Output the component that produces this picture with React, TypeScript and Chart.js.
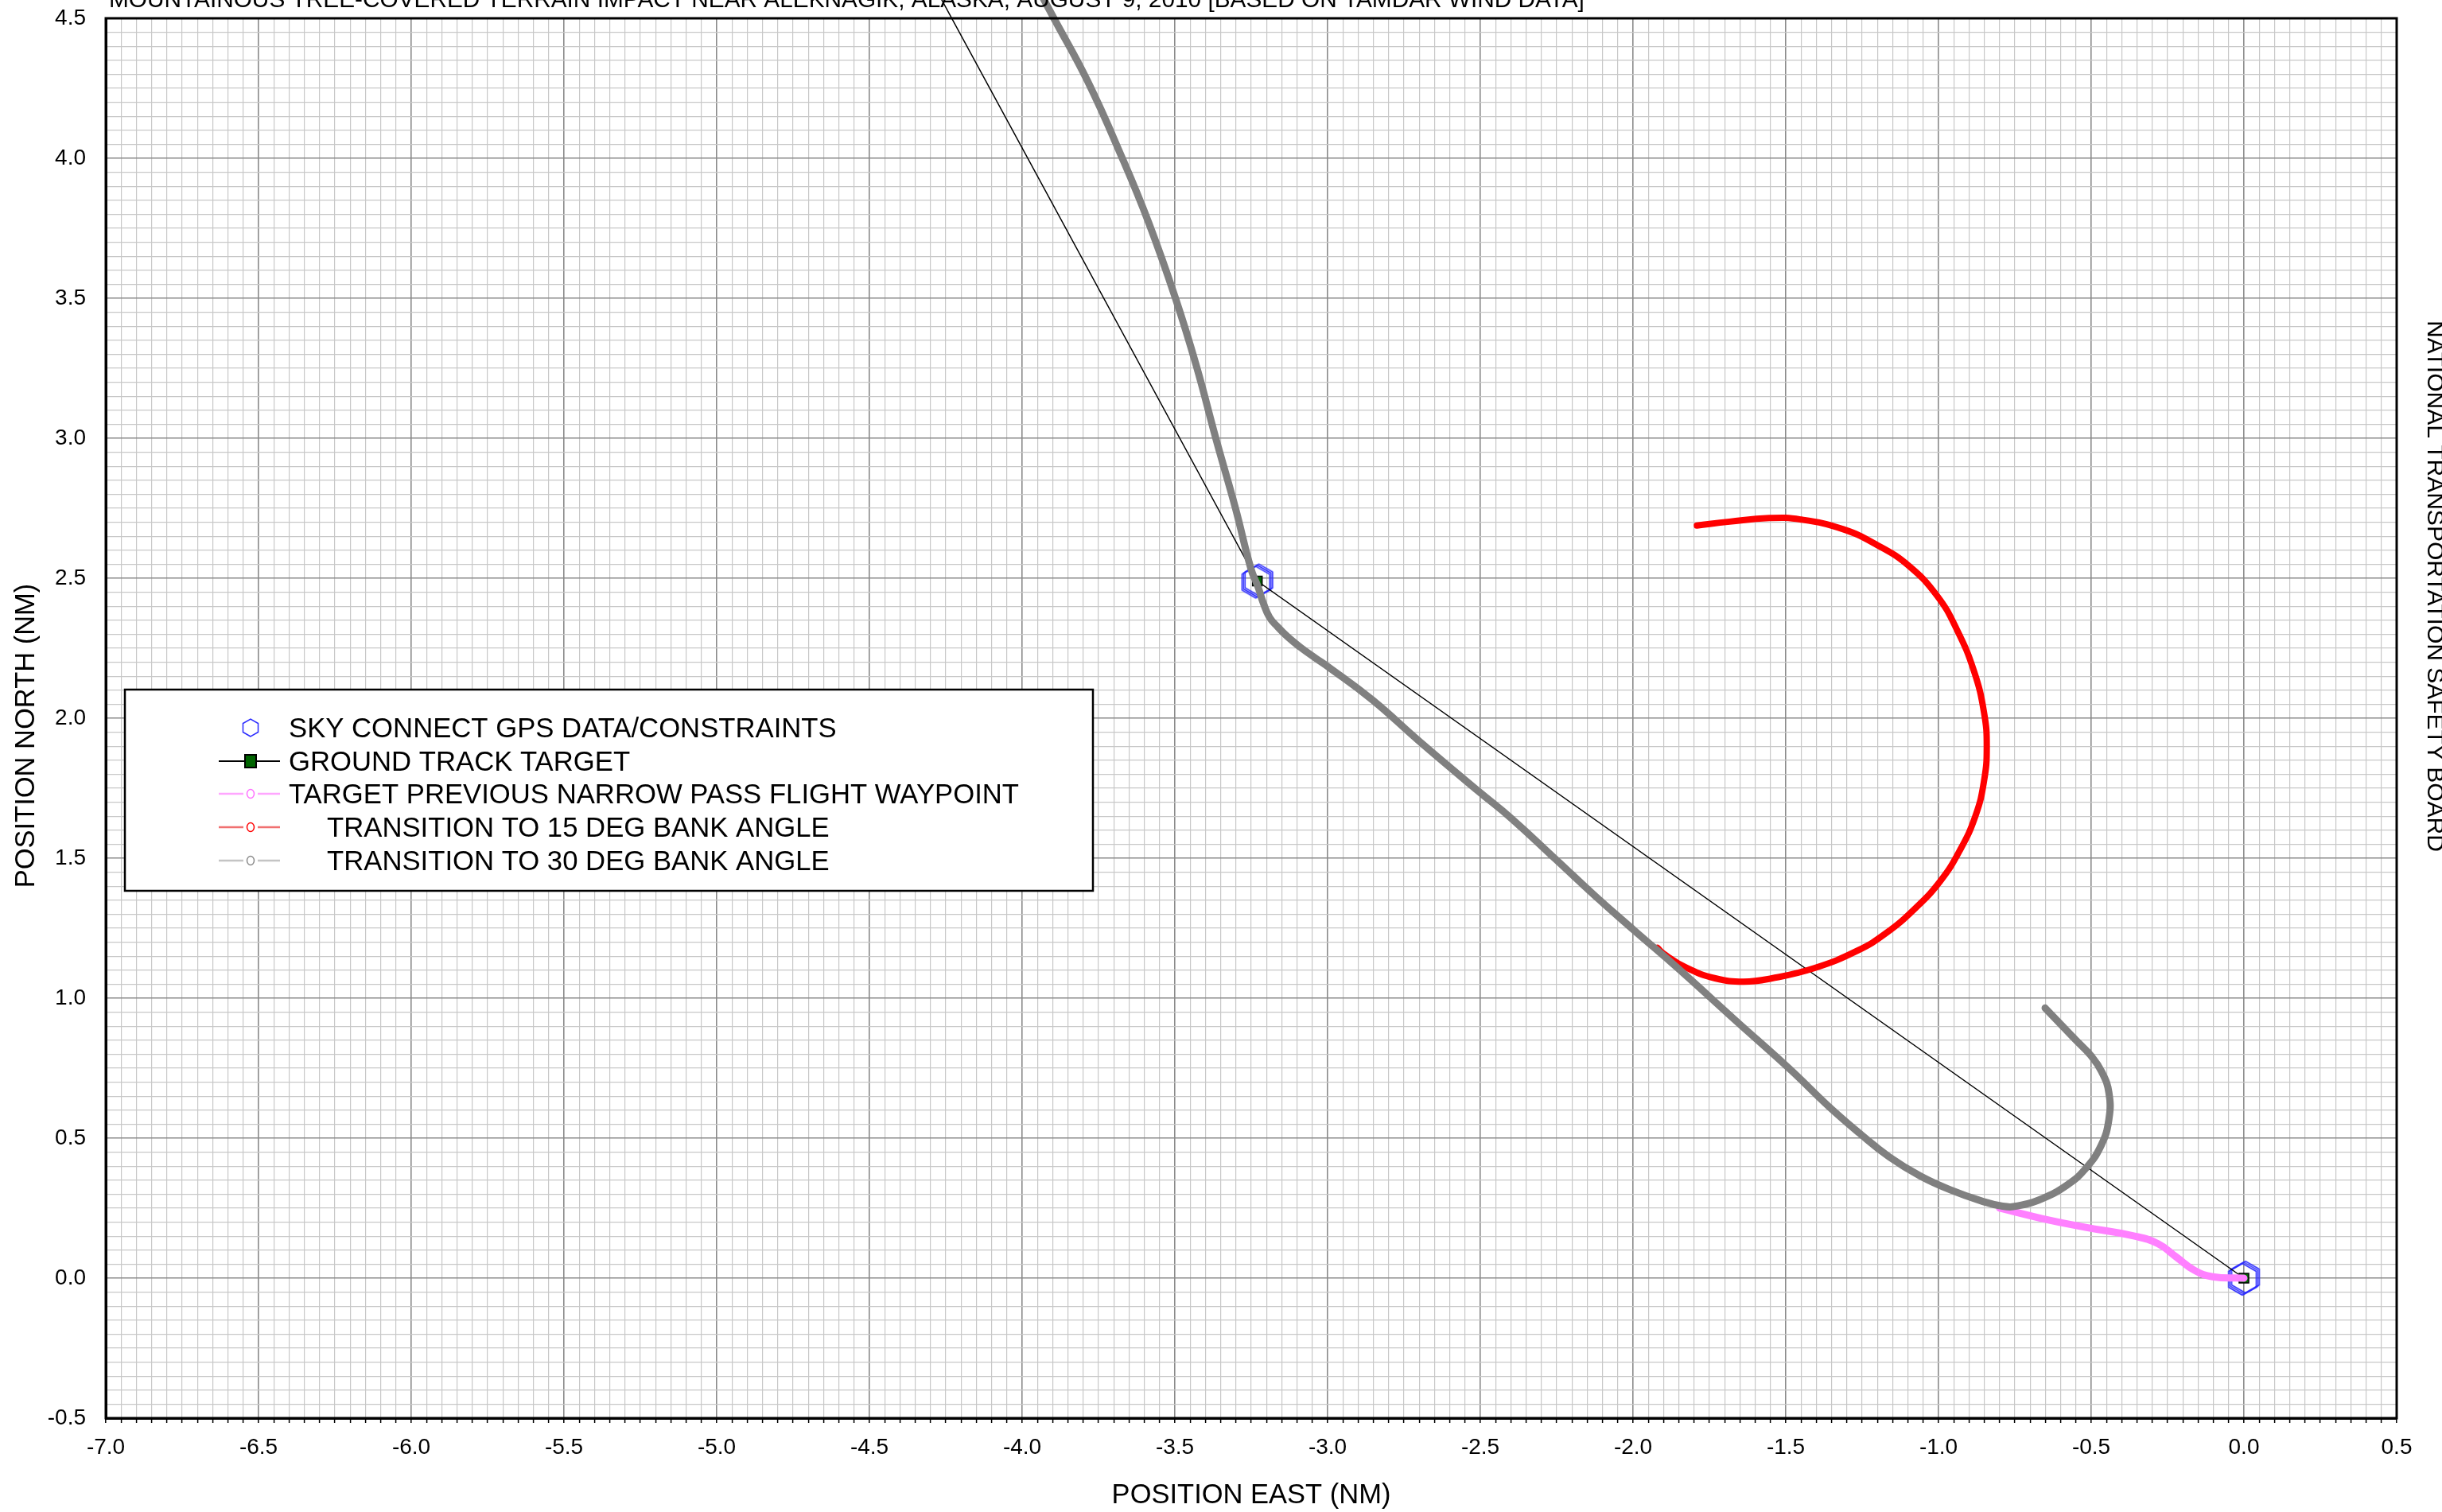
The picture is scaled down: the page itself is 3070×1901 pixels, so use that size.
import React, { useEffect, useRef } from 'react';
import { Chart, registerables } from 'chart.js';

Chart.register(...registerables);

// Axis ranges and grid spacing (nautical miles)
const X_MIN = -7.0;
const X_MAX = 0.5;
const Y_MIN = -0.5;
const Y_MAX = 4.5;
const GRID_STEP = 0.05;
const MAJOR_STEP = 0.5;

// Sky Connect GPS fixes / constraints
const gpsEast = [-3.235, -3.23, -3.225, -0.005, 0.0, 0.005];
const gpsNorth = [2.486, 2.49, 2.494, -0.004, 0.0, 0.004];

// Ground track target (straight legs between waypoints)
const targetEast = [-4.33, -3.23, 0.0];
const targetNorth = [4.7, 2.49, 0.0];

// Target previous narrow pass flight waypoint
const passEast = [-0.8, -0.661, -0.511, -0.361, -0.281, -0.222, -0.162, -0.102, 0.0];
const passNorth = [0.25, 0.213, 0.18, 0.151, 0.123, 0.076, 0.028, 0.005, 0.0];

// Transition to 15 deg bank angle
const bank15East = [
  -1.92, -1.899, -1.824, -1.731, -1.638, -1.545, -1.405, -1.265, -1.172, -1.079, -0.995, -0.93, -0.879,
  -0.851, -0.842, -0.851, -0.884, -0.94, -1.005, -1.098, -1.2, -1.312, -1.452, -1.554, -1.684, -1.791,
];
const bank15North = [
  1.18, 1.158, 1.108, 1.071, 1.059, 1.071, 1.108, 1.17, 1.232, 1.318, 1.417, 1.528, 1.651,
  1.775, 1.898, 2.021, 2.169, 2.317, 2.438, 2.545, 2.618, 2.675, 2.71, 2.715, 2.702, 2.688,
];

// Transition to 30 deg bank angle (full track)
const bank30East = [
  -3.955, -3.896, -3.786, -3.672, -3.585, -3.498, -3.43, -3.366, -3.302, -3.251, -3.228, -3.21, -3.19,
  -3.164, -3.13, -3.091, -3.04, -3.0, -2.854, -2.7, -2.507, -2.398, -2.252, -2.124, -1.996, -1.85,
  -1.668, -1.485, -1.359, -1.259, -1.16, -1.06, -0.96, -0.86, -0.79, -0.741, -0.661, -0.581, -0.521,
  -0.468, -0.442, -0.442, -0.466, -0.501, -0.551, -0.601, -0.651,
];
const bank30North = [
  4.62, 4.5, 4.276, 4.0, 3.768, 3.5, 3.26, 3.0, 2.752, 2.534, 2.47, 2.41, 2.36,
  2.327, 2.29, 2.255, 2.215, 2.185, 2.066, 1.918, 1.74, 1.642, 1.495, 1.365, 1.242, 1.104,
  0.924, 0.745, 0.613, 0.518, 0.432, 0.365, 0.315, 0.276, 0.257, 0.258, 0.284, 0.331, 0.388,
  0.473, 0.568, 0.662, 0.738, 0.795, 0.851, 0.908, 0.965,
];

const chartTitle =
  'MOUNTAINOUS TREE-COVERED TERRAIN IMPACT NEAR ALEKNAGIK, ALASKA, AUGUST 9, 2010 [BASED ON TAMDAR WIND DATA]';
const sideCaption = 'NATIONAL TRANSPORTATION SAFETY BOARD';
const xTitle = 'POSITION EAST (NM)';
const yTitle = 'POSITION NORTH (NM)';

const legendLabels = [
  'SKY CONNECT GPS DATA/CONSTRAINTS',
  'GROUND TRACK TARGET',
  'TARGET PREVIOUS NARROW PASS FLIGHT WAYPOINT',
  'TRANSITION TO 15 DEG BANK ANGLE',
  'TRANSITION TO 30 DEG BANK ANGLE',
];

const FONT = "'Liberation Sans', Arial, Helvetica, sans-serif";
const W = 3070;
const H = 1901;

const zip = (xs: number[], ys: number[]) => xs.map((x, i) => ({ x, y: ys[i] }));

const isMajor = (v: number) => Math.abs(v / MAJOR_STEP - Math.round(v / MAJOR_STEP)) < 1e-6;

function hexPath(g: CanvasRenderingContext2D, cx: number, cy: number, r: number) {
  g.beginPath();
  for (let i = 0; i < 6; i++) {
    const a = Math.PI / 2 + (i * Math.PI) / 3;
    const px = cx + r * Math.cos(a);
    const py = cy + r * Math.sin(a);
    if (i === 0) g.moveTo(px, py);
    else g.lineTo(px, py);
  }
  g.closePath();
}

function hexagonMarker(r: number, color: string, lw: number) {
  const size = Math.ceil(2 * r + 2 * lw + 4);
  const c = document.createElement('canvas');
  c.width = size;
  c.height = size;
  const g = c.getContext('2d')!;
  g.strokeStyle = color;
  g.lineWidth = lw;
  hexPath(g, size / 2, size / 2, r);
  g.stroke();
  return c;
}

const decorPlugin = {
  id: 'decor',
  afterDatasetsDraw(chart: any) {
    const { ctx, chartArea } = chart;
    ctx.save();
    ctx.strokeStyle = '#000';
    ctx.lineWidth = 3;
    ctx.strokeRect(chartArea.left, chartArea.top, chartArea.right - chartArea.left, chartArea.bottom - chartArea.top);
    ctx.restore();
  },
  afterDraw(chart: any) {
    const { ctx, chartArea } = chart;
    ctx.save();
    ctx.fillStyle = '#000';

    // title along the top edge
    ctx.font = `29.8px ${FONT}`;
    ctx.textAlign = 'left';
    ctx.textBaseline = 'alphabetic';
    ctx.fillText(chartTitle, 137, 9);

    // axis titles
    ctx.font = `34.5px ${FONT}`;
    ctx.textAlign = 'center';
    ctx.fillText(xTitle, (chartArea.left + chartArea.right) / 2, 1890);
    ctx.save();
    ctx.translate(43, 925);
    ctx.rotate(-Math.PI / 2);
    ctx.fillText(yTitle, 0, 0);
    ctx.restore();

    // caption on the right edge
    ctx.save();
    ctx.font = `30px ${FONT}`;
    ctx.translate(3052, 737);
    ctx.rotate(Math.PI / 2);
    ctx.fillText(sideCaption, 0, 0);
    ctx.restore();

    // legend
    const bx = 157, by = 867, bw = 1217, bh = 253;
    ctx.fillStyle = '#fff';
    ctx.fillRect(bx, by, bw, bh);
    ctx.strokeStyle = '#000';
    ctx.lineWidth = 2.5;
    ctx.strokeRect(bx, by, bw, bh);

    const rowY = [915, 957, 998, 1040, 1082];
    const textX = [363, 363, 363, 411, 411];
    const symX = 315;
    const segL = 275, segR = 352;

    // GPS hexagon
    ctx.strokeStyle = '#2a2aff';
    ctx.lineWidth = 1.5;
    hexPath(ctx, symX, rowY[0], 11);
    ctx.stroke();

    // ground track
    ctx.strokeStyle = '#000';
    ctx.lineWidth = 2;
    ctx.beginPath();
    ctx.moveTo(segL, rowY[1]);
    ctx.lineTo(segR, rowY[1]);
    ctx.stroke();
    ctx.fillStyle = '#006400';
    ctx.fillRect(symX - 7, rowY[1] - 8, 14, 16);
    ctx.strokeRect(symX - 7, rowY[1] - 8, 14, 16);

    const lineEntries = [
      { y: rowY[2], line: '#ffa6ff', dot: '#ff70ff' },
      { y: rowY[3], line: '#f07070', dot: '#ff0000' },
      { y: rowY[4], line: '#c4c4c4', dot: '#8a8a8a' },
    ];
    for (const e of lineEntries) {
      ctx.strokeStyle = e.line;
      ctx.lineWidth = 2.5;
      ctx.beginPath();
      ctx.moveTo(segL, e.y);
      ctx.lineTo(symX - 9, e.y);
      ctx.moveTo(symX + 9, e.y);
      ctx.lineTo(segR, e.y);
      ctx.stroke();
      ctx.strokeStyle = e.dot;
      ctx.lineWidth = 1.5;
      ctx.beginPath();
      ctx.ellipse(symX, e.y, 4.5, 5.5, 0, 0, Math.PI * 2);
      ctx.stroke();
    }

    ctx.fillStyle = '#000';
    ctx.font = `34.7px ${FONT}`;
    ctx.textAlign = 'left';
    ctx.textBaseline = 'alphabetic';
    legendLabels.forEach((t, i) => ctx.fillText(t, textX[i], rowY[i] + 12));

    ctx.restore();
  },
};

export default function App() {
  const canvasRef = useRef<HTMLCanvasElement | null>(null);

  useEffect(() => {
    const canvas = canvasRef.current;
    if (!canvas) return;
    const hex = hexagonMarker(20, '#2a2aff', 1.5);

    const gridColor = (c: any) => (isMajor(c.tick.value) ? '#8a8a8a' : '#c8c8c8');
    const gridWidth = (c: any) => (isMajor(c.tick.value) ? 1.6 : 1.2);
    const tickLabel = (v: any) => (isMajor(Number(v)) ? Number(v).toFixed(1) : '');

    const track = {
      showLine: true,
      pointRadius: 0,
      tension: 0.45,
      borderCapStyle: 'round',
      borderJoinStyle: 'round',
    };

    const chart = new Chart(canvas, {
      type: 'scatter',
      data: {
        datasets: [
          {
            ...track,
            label: legendLabels[4],
            data: zip(bank30East, bank30North),
            borderColor: '#808080',
            borderWidth: 9,
            clip: false,
            order: 1,
          },
          {
            ...track,
            label: legendLabels[3],
            data: zip(bank15East, bank15North),
            borderColor: '#ff0000',
            borderWidth: 8,
            order: 2,
          },
          {
            ...track,
            label: legendLabels[2],
            data: zip(passEast, passNorth),
            borderColor: '#ff80ff',
            borderWidth: 9,
            order: 3,
          },
          {
            label: legendLabels[1],
            data: zip(targetEast, targetNorth),
            showLine: true,
            borderColor: '#000000',
            borderWidth: 1.5,
            pointStyle: 'rect',
            pointRadius: 8.5,
            pointBackgroundColor: '#006400',
            pointBorderColor: '#000000',
            pointBorderWidth: 1.5,
            tension: 0,
            clip: false,
            order: 4,
          },
          {
            label: legendLabels[0],
            data: zip(gpsEast, gpsNorth),
            showLine: false,
            pointStyle: hex,
            pointRadius: 20,
            order: 5,
          },
        ],
      },
      options: {
        responsive: false,
        animation: false,
        devicePixelRatio: 1,
        layout: { padding: { top: 23, right: 57, left: 0, bottom: 0 } },
        plugins: { legend: { display: false }, tooltip: { enabled: false }, title: { display: false } },
        scales: {
          x: {
            type: 'linear',
            position: 'bottom',
            min: X_MIN,
            max: X_MAX,
            afterFit: (s: any) => {
              s.height = 118;
              s.paddingLeft = 0;
              s.paddingRight = 0;
            },
            ticks: {
              stepSize: GRID_STEP,
              autoSkip: false,
              maxRotation: 0,
              minRotation: 0,
              padding: 14,
              color: '#000',
              font: { family: FONT, size: 28 },
              callback: tickLabel,
            },
            grid: {
              color: gridColor,
              lineWidth: gridWidth,
              drawTicks: true,
              tickLength: 6,
              tickColor: '#000',
              tickWidth: 1.5,
            },
            border: { display: true, color: '#000', width: 3 },
          },
          y: {
            type: 'linear',
            position: 'left',
            min: Y_MIN,
            max: Y_MAX,
            afterFit: (s: any) => {
              s.width = 133;
              s.paddingTop = 0;
              s.paddingBottom = 0;
            },
            ticks: {
              stepSize: GRID_STEP,
              autoSkip: false,
              padding: 25,
              color: '#000',
              font: { family: FONT, size: 28 },
              callback: tickLabel,
            },
            grid: {
              color: gridColor,
              lineWidth: gridWidth,
              drawTicks: false,
            },
            border: { display: true, color: '#000', width: 3 },
          },
        },
      },
      plugins: [decorPlugin],
    } as any);

    return () => chart.destroy();
  }, []);

  return (
    <div style={{ position: 'fixed', left: 0, top: 0, width: W, height: H, background: '#fff' }}>
      <canvas ref={canvasRef} width={W} height={H} style={{ width: W, height: H, display: 'block' }} />
    </div>
  );
}
